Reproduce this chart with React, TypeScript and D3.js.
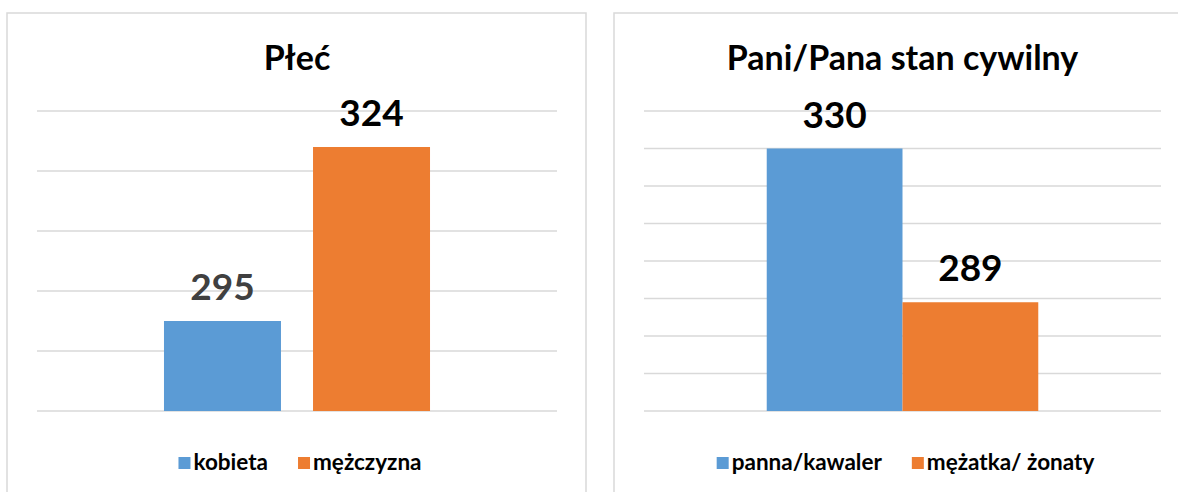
import React, { useRef, useEffect } from "react";
import { select, scaleLinear, scaleBand, range } from "d3";

// left chart
const plecTitle = "Płeć";
const plecLabels = ["kobieta", "mężczyzna"];
const plecValues = [295, 324];
const plecDomain = [280, 330];

// right chart
const stanTitle = "Pani/Pana stan cywilny";
const stanLabels = ["panna/kawaler", "mężatka/ żonaty"];
const stanValues = [330, 289];
const stanDomain = [260, 340];

const tickStep = 10;
const colors = ["#5B9BD5", "#ED7D31"];
const labelColors = [["#404040", "#000000"], ["#000000", "#000000"]];
const FONT = "Lato, 'Open Sans', sans-serif";

const panels = [
  {
    title: plecTitle, labels: plecLabels, values: plecValues, domain: plecDomain,
    box: [7, 13, 579, 500], plot: [37, 557], padIn: 0.215, padOut: 0.852, lc: labelColors[0],
  },
  {
    title: stanTitle, labels: stanLabels, values: stanValues, domain: stanDomain,
    box: [614, 13, 600, 500], plot: [644, 1161], padIn: 0, padOut: 0.904, lc: labelColors[1],
  },
];

function App() {
  const svgRef = useRef<SVGSVGElement>(null);

  useEffect(() => {
    const svg = select(svgRef.current);
    svg.selectAll("*").remove();

    panels.forEach((p) => {
      const g = svg.append("g");
      const [bx, by, bw, bh] = p.box;

      g.append("rect")
        .attr("x", bx).attr("y", by).attr("width", bw).attr("height", bh)
        .attr("fill", "#fff").attr("stroke", "#D9D9D9").attr("stroke-width", 1.5);

      const yScale = scaleLinear().domain(p.domain).range([411, 111]);
      const xScale = scaleBand<string>()
        .domain(p.labels)
        .range(p.plot as [number, number])
        .paddingInner(p.padIn)
        .paddingOuter(p.padOut);

      const ticks = range(p.domain[0], p.domain[1] + 1, tickStep);
      g.selectAll(".grid")
        .data(ticks)
        .join("line")
        .attr("class", "grid")
        .attr("x1", p.plot[0]).attr("x2", p.plot[1])
        .attr("y1", (d) => yScale(d)).attr("y2", (d) => yScale(d))
        .attr("stroke", "#D9D9D9").attr("stroke-width", 1.5);

      const cx = (p.plot[0] + p.plot[1]) / 2;
      g.append("text")
        .attr("x", cx).attr("y", 70)
        .attr("text-anchor", "middle")
        .attr("font-family", FONT).attr("font-weight", "bold").attr("font-size", 34)
        .attr("fill", "#000")
        .text(p.title);

      g.selectAll(".bar")
        .data(p.values)
        .join("rect")
        .attr("class", "bar")
        .attr("x", (d, i) => xScale(p.labels[i])!)
        .attr("y", (d) => yScale(d))
        .attr("width", xScale.bandwidth())
        .attr("height", (d) => yScale(p.domain[0]) - yScale(d))
        .attr("fill", (d, i) => colors[i]);

      g.selectAll(".val")
        .data(p.values)
        .join("text")
        .attr("class", "val")
        .attr("x", (d, i) => xScale(p.labels[i])! + xScale.bandwidth() / 2)
        .attr("y", (d) => yScale(d) - 21)
        .attr("text-anchor", "middle")
        .attr("font-family", FONT).attr("font-weight", "bold").attr("font-size", 37)
        .attr("fill", (d, i) => p.lc[i])
        .text((d) => d);

      // legend
      const leg = g.append("g");
      let x = 0;
      p.labels.forEach((lab, i) => {
        leg.append("rect")
          .attr("x", x).attr("y", 457).attr("width", 12).attr("height", 12)
          .attr("fill", colors[i]);
        const t = leg.append("text")
          .attr("x", x + 15).attr("y", 470)
          .attr("font-family", FONT).attr("font-weight", "bold").attr("font-size", 22.5)
          .attr("fill", "#000")
          .text(lab);
        const w = (t.node() as SVGTextElement).getComputedTextLength();
        x += 15 + w + (i < p.labels.length - 1 ? 30 : 0);
      });
      leg.attr("transform", `translate(${cx - x / 2 + 3},0)`);
    });
  }, []);

  return (
    <div style={{ position: "absolute", left: 0, top: 0 }}>
      <svg ref={svgRef} width={1178} height={492} style={{ display: "block", background: "#fff" }} />
    </div>
  );
}

export default App;
